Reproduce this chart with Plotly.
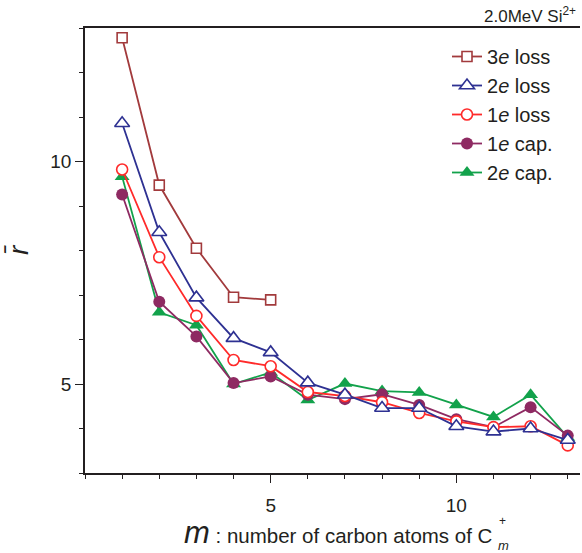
import plotly.graph_objects as go

m_vals = list(range(1, 14))
m_loss3 = [1, 2, 3, 4, 5]
loss3 = [12.78, 9.47, 8.05, 6.95, 6.89]
loss2 = [10.86, 8.41, 6.94, 6.03, 5.71, 5.03, 4.76, 4.46, 4.46, 4.05, 3.93, 4.00, 3.74]
loss1 = [9.82, 7.85, 6.53, 5.54, 5.40, 4.82, 4.73, 4.59, 4.35, 4.16, 4.03, 4.05, 3.62]
cap1 = [9.26, 6.85, 6.07, 5.02, 5.17, 4.76, 4.66, 4.77, 4.53, 4.21, 4.03, 4.48, 3.84]
cap2 = [9.66, 6.61, 6.32, 5.00, 5.26, 4.64, 5.01, 4.84, 4.81, 4.53, 4.26, 4.76, 3.80]

names = ["3<i>e</i> loss", "2<i>e</i> loss", "1<i>e</i> loss", "1<i>e</i> cap.", "2<i>e</i> cap."]
colors = ["#a23a3c", "#2e3192", "#ff2a2a", "#8e2a62", "#12a24b"]

FONT = "Liberation Sans, Arial, sans-serif"
TXT = "#231f20"

L, R, T, B = 85, 2, 28, 80
W, H = 582, 553
PW, PH = W - L - R, H - T - B


def px(x):
    return (x - L) / PW


def py(y):
    return (H - B - y) / PH


fig = go.Figure()

# drawing order: bottom to top
fig.add_trace(go.Scatter(x=m_vals, y=cap2, name=names[4], legendrank=5, mode="lines+markers",
                         line=dict(color=colors[4], width=1.8),
                         marker=dict(symbol="triangle-up", size=13, color=colors[4])))
fig.add_trace(go.Scatter(x=m_vals, y=cap1, name=names[3], legendrank=4, mode="lines+markers",
                         line=dict(color=colors[3], width=1.8),
                         marker=dict(symbol="circle", size=12, color=colors[3])))
fig.add_trace(go.Scatter(x=m_vals, y=loss1, name=names[2], legendrank=3, mode="lines+markers",
                         line=dict(color=colors[2], width=1.8),
                         marker=dict(symbol="circle", size=11, color="white",
                                     line=dict(color=colors[2], width=1.6))))
fig.add_trace(go.Scatter(x=m_vals, y=loss2, name=names[1], legendrank=2, mode="lines+markers",
                         line=dict(color=colors[1], width=1.8),
                         marker=dict(symbol="triangle-up", size=13, color="white",
                                     line=dict(color=colors[1], width=1.6))))
fig.add_trace(go.Scatter(x=m_loss3, y=loss3, name=names[0], legendrank=1, mode="lines+markers",
                         line=dict(color=colors[0], width=1.8),
                         marker=dict(symbol="square", size=10, color="white",
                                     line=dict(color=colors[0], width=1.6))))

fig.update_layout(
    width=W, height=H,
    margin=dict(l=L, r=R, t=T, b=B),
    paper_bgcolor="white", plot_bgcolor="white",
    font=dict(family=FONT, color=TXT, size=18),
    showlegend=True,
    legend=dict(x=px(447), y=py(37), xanchor="left", yanchor="top",
                font=dict(size=20, family=FONT, color=TXT),
                bgcolor="rgba(0,0,0,0)", borderwidth=0, tracegroupgap=0),
    xaxis=dict(range=[0, 13.33], showgrid=False, zeroline=False,
               showline=True, linecolor=TXT, linewidth=1.5, mirror=True,
               ticks="outside", ticklen=8, tickwidth=1.3, tickcolor=TXT,
               tickvals=[5, 10], ticktext=["5", "10"], ticklabelstandoff=6,
               tickfont=dict(size=19, family=FONT, color=TXT),
               minor=dict(dtick=1, tick0=0, ticks="outside", ticklen=4, tickwidth=1.3, tickcolor=TXT)),
    yaxis=dict(range=[3, 13], showgrid=False, zeroline=False,
               showline=True, linecolor=TXT, linewidth=1.5,
               ticks="outside", ticklen=8, tickwidth=1.3, tickcolor=TXT,
               tickvals=[5, 10], ticktext=["5", "10"],
               tickfont=dict(size=19, family=FONT, color=TXT),
               minor=dict(dtick=1, tick0=0, ticks="outside", ticklen=4, tickwidth=1.3, tickcolor=TXT)),
)

ann = []
ann.append(dict(text="2.0MeV Si<sup>2+</sup>", x=px(578), y=py(15), xref="paper", yref="paper",
                xanchor="right", yanchor="middle", showarrow=False,
                font=dict(size=17, family=FONT, color=TXT)))
ann.append(dict(text="<i>r\u0304</i>", x=px(19), y=py(250), xref="paper", yref="paper",
                xanchor="center", yanchor="middle", showarrow=False, textangle=-90,
                font=dict(size=28, family=FONT, color=TXT)))
ann.append(dict(text="<span style='font-size:31px'><i>m</i></span> : number of carbon atoms of C",
                x=px(495), y=py(532), xref="paper", yref="paper",
                xanchor="right", yanchor="middle", showarrow=False,
                font=dict(size=20.5, family=FONT, color=TXT)))
ann.append(dict(text="+", x=px(502), y=py(521), xref="paper", yref="paper",
                xanchor="center", yanchor="middle", showarrow=False,
                font=dict(size=12, family=FONT, color=TXT)))
ann.append(dict(text="<i>m</i>", x=px(503), y=py(545), xref="paper", yref="paper",
                xanchor="center", yanchor="middle", showarrow=False,
                font=dict(size=13, family=FONT, color=TXT)))
fig.update_layout(annotations=ann)

fig.write_html("out.html")
